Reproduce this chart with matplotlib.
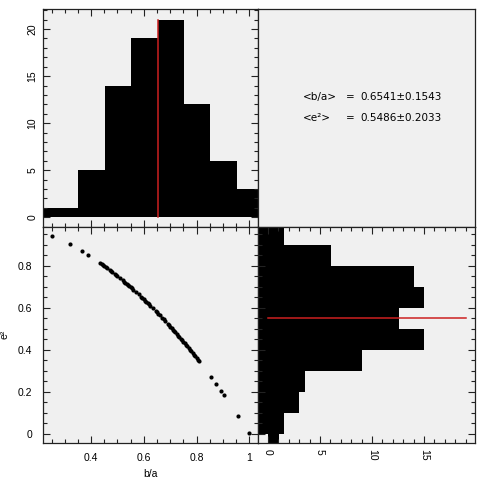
import numpy as np
import matplotlib
matplotlib.use('Agg')
import matplotlib.pyplot as plt
from matplotlib.ticker import MultipleLocator, FormatStrFormatter

# b/a histogram (top left), bars start at count 0; first bar runs off the left edge
ba_edges = [0.2, 0.352, 0.452, 0.552, 0.652, 0.752, 0.852, 0.952, 1.052]
ba_counts = [1, 5, 14, 19, 21, 12, 6, 3]
ba_mean = 0.6541
ba_std = 0.1543

# e^2 histogram (bottom right), horizontal
e2_edges = [0.0, 0.1, 0.2, 0.3, 0.4, 0.5, 0.6, 0.7, 0.8, 0.9, 1.0]
e2_counts = [1.55, 3.0, 3.55, 9.04, 15.0, 12.58, 15.0, 14.03, 6.07, 1.55]
e2_low_bin = [-0.1, 0.0]      # small strip below zero
e2_low_count = 1.03
e2_mean = 0.5486
e2_std = 0.2033
e2_line_len = 19

# scatter points b/a vs e^2
ba = [0.251, 0.321, 0.365, 0.390,
      0.435, 0.44, 0.445, 0.45, 0.455, 0.46, 0.47, 0.475, 0.48, 0.49, 0.495,
      0.50, 0.51, 0.52, 0.525, 0.53, 0.535, 0.54, 0.545, 0.55, 0.555, 0.56,
      0.57, 0.58, 0.59, 0.595, 0.60, 0.605, 0.61, 0.615, 0.62, 0.625, 0.635,
      0.645, 0.65, 0.655, 0.66, 0.67, 0.675, 0.68, 0.69, 0.695, 0.70, 0.705,
      0.71, 0.715, 0.72, 0.725, 0.73, 0.735, 0.74, 0.745, 0.75, 0.755, 0.76,
      0.765, 0.77, 0.775, 0.78, 0.785, 0.79, 0.795, 0.80, 0.805, 0.81,
      0.856, 0.875, 0.894, 0.905, 0.958, 0.999]
e2 = [0.942, 0.902, 0.870, 0.853,
      0.811, 0.806, 0.802, 0.798, 0.793, 0.788, 0.779, 0.774, 0.770, 0.760, 0.755,
      0.750, 0.740, 0.730, 0.724, 0.719, 0.714, 0.708, 0.703, 0.698, 0.692, 0.686,
      0.675, 0.664, 0.652, 0.646, 0.640, 0.634, 0.628, 0.622, 0.616, 0.609, 0.597,
      0.584, 0.578, 0.571, 0.564, 0.551, 0.544, 0.538, 0.524, 0.517, 0.510, 0.503,
      0.496, 0.489, 0.482, 0.474, 0.467, 0.460, 0.452, 0.445, 0.438, 0.430, 0.422,
      0.415, 0.407, 0.399, 0.392, 0.384, 0.376, 0.368, 0.360, 0.352, 0.344,
      0.269, 0.237, 0.205, 0.184, 0.083, 0.003]

xlim_ba = (0.2166, 1.033)
ylim_e2 = (-0.045, 0.986)
ylim_cnt = (-1.0, 22.1)
xlim_cnt = (-0.97, 19.9)

plt.rcParams['font.family'] = ['Liberation Sans', 'DejaVu Sans']
plt.rcParams['font.size'] = 7.5
bg = '#f0f0f0'
frame = '#222222'
red = '#cc2020'

fig = plt.figure(figsize=(4.8, 4.82), dpi=100)
W, H = 480.0, 482.0
def box(x0, y0, x1, y1):
    return [x0 / W, 1 - y1 / H, (x1 - x0) / W, (y1 - y0) / H]

ax_tl = fig.add_axes(box(42.7, 9.3, 258, 226.7))
ax_tr = fig.add_axes(box(258, 9.3, 475, 226.7))
ax_bl = fig.add_axes(box(42.7, 226.7, 258, 443))
ax_br = fig.add_axes(box(258, 226.7, 475, 443))

for ax in [ax_tl, ax_tr, ax_bl, ax_br]:
    ax.set_facecolor(bg)
    for s in ax.spines.values():
        s.set_color(frame)
        s.set_linewidth(0.9)
    ax.tick_params(which='both', direction='in', color=frame, width=0.8)
    ax.tick_params(which='major', length=4.8)
    ax.tick_params(which='minor', length=2.8)

# top left: histogram of b/a
ax_tl.bar(ba_edges[:-1], ba_counts, width=np.diff(ba_edges), align='edge',
          color='black', linewidth=0)
ax_tl.plot([ba_mean, ba_mean], [0, max(ba_counts)], color=red, lw=1.1)
ax_tl.set_xlim(xlim_ba)
ax_tl.set_ylim(ylim_cnt)
ax_tl.xaxis.set_major_locator(MultipleLocator(0.2))
ax_tl.xaxis.set_minor_locator(MultipleLocator(0.05))
ax_tl.yaxis.set_major_locator(MultipleLocator(5))
ax_tl.yaxis.set_minor_locator(MultipleLocator(1))
ax_tl.tick_params(which='both', top=True, right=True, labelbottom=False)
ax_tl.tick_params(axis='y', pad=4)
for t in ax_tl.get_yticklabels():
    t.set_rotation(90)
    t.set_va('center')

# top right: summary text
ax_tr.set_xticks([])
ax_tr.set_yticks([])
tf = dict(family='DejaVu Sans', fontsize=7.5, transform=ax_tr.transAxes, va='center')
ax_tr.text(0.209, 0.598, '<b/a>', ha='left', **tf)
ax_tr.text(0.424, 0.598, '=', ha='center', **tf)
ax_tr.text(0.473, 0.598, '%.4f\u00b1%.4f' % (ba_mean, ba_std), ha='left', **tf)
ax_tr.text(0.209, 0.499, '<e\u00b2>', ha='left', **tf)
ax_tr.text(0.424, 0.499, '=', ha='center', **tf)
ax_tr.text(0.473, 0.499, '%.4f\u00b1%.4f' % (e2_mean, e2_std), ha='left', **tf)

# bottom left: scatter
ax_bl.scatter(ba, e2, s=9, color='black', linewidths=0, zorder=3)
ax_bl.set_xlim(xlim_ba)
ax_bl.set_ylim(ylim_e2)
ax_bl.xaxis.set_major_locator(MultipleLocator(0.2))
ax_bl.xaxis.set_minor_locator(MultipleLocator(0.05))
ax_bl.yaxis.set_major_locator(MultipleLocator(0.2))
ax_bl.yaxis.set_minor_locator(MultipleLocator(0.05))
ax_bl.xaxis.set_major_formatter(FormatStrFormatter('%g'))
ax_bl.yaxis.set_major_formatter(FormatStrFormatter('%g'))
ax_bl.tick_params(which='both', top=True, right=True)
ax_bl.tick_params(axis='both', pad=7.5)
ax_bl.set_xlabel('b/a', labelpad=4)
ax_bl.set_ylabel('e\u00b2', labelpad=6)

# bottom right: horizontal histogram of e^2
ax_br.barh(e2_edges[:-1], np.array(e2_counts) - xlim_cnt[0], height=0.1,
           left=xlim_cnt[0], align='edge', color='black', linewidth=0)
ax_br.barh(e2_low_bin[0], e2_low_count, height=e2_low_bin[1] - e2_low_bin[0],
           left=0, align='edge', color='black', linewidth=0)
ax_br.plot([0, e2_line_len], [e2_mean, e2_mean], color=red, lw=1.1)
ax_br.set_xlim(xlim_cnt)
ax_br.set_ylim(ylim_e2)
ax_br.xaxis.set_major_locator(MultipleLocator(5))
ax_br.xaxis.set_minor_locator(MultipleLocator(1))
ax_br.yaxis.set_major_locator(MultipleLocator(0.2))
ax_br.yaxis.set_minor_locator(MultipleLocator(0.05))
ax_br.tick_params(which='both', top=True, right=True, labelleft=False)
ax_br.tick_params(axis='x', pad=4)
for t in ax_br.get_xticklabels():
    t.set_rotation(-90)
    t.set_va('top')

fig.savefig('out.png', dpi=100, facecolor='white')
